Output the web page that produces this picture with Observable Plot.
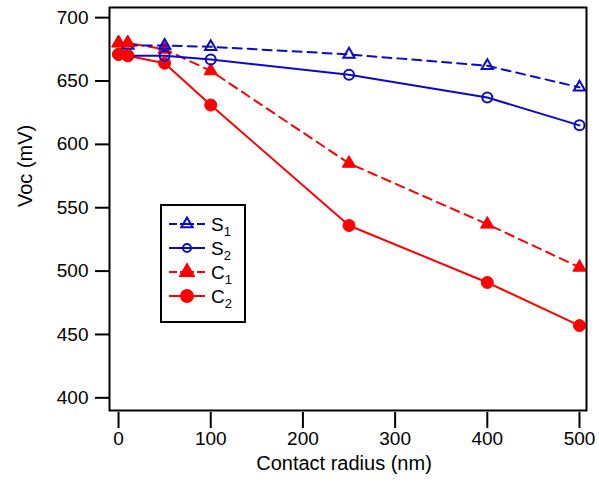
<!DOCTYPE html>
<html>
<head>
<meta charset="utf-8">
<script src="https://cdn.jsdelivr.net/npm/d3@7"></script>
<script src="https://cdn.jsdelivr.net/npm/@observablehq/plot@0.6"></script>
<style>
  html, body { margin: 0; padding: 0; background: white; }
  #wrap { position: relative; width: 599px; height: 483px; }
  #legend { position: absolute; left: 160px; top: 204px; }
</style>
</head>
<body>
<div id="wrap"><div id="legend"></div></div>
<script>
// Data
const radiusC = [0, 10, 50, 100, 250, 400, 500];
const radiusS = [10, 50, 100, 250, 400, 500];
const vocS1 = [678, 678, 677, 671, 662, 645];
const vocS2 = [670, 670, 667, 655, 637, 615];
const vocC1 = [680, 680, 675, 658, 585, 537, 503];
const vocC2 = [671, 670, 664, 631, 536, 491, 457];
const xTicks = [0, 100, 200, 300, 400, 500];
const yTicks = [400, 450, 500, 550, 600, 650, 700];
const seriesNames = ["S1", "S2", "C1", "C2"];
const xLabel = "Contact radius (nm)";
const yLabel = "Voc (mV)";

const BLUE = "#0a0ac8";
const RED = "#ff0000";
const FONT = "Liberation Sans, Arial, sans-serif";

const rows = (xs, ys) => xs.map((x, i) => ({x, y: ys[i]}));
const S1 = rows(radiusS, vocS1);
const S2 = rows(radiusS, vocS2);
const C1 = rows(radiusC, vocC1);
const C2 = rows(radiusC, vocC2);
const nearZero = d => d.x <= 10;

const chart = Plot.plot({
  width: 599,
  height: 483,
  marginLeft: 109,
  marginRight: 13,
  marginTop: 7,
  marginBottom: 73,
  x: {domain: [-9.8, 507.6]},
  y: {domain: [390, 708]},
  style: {fontFamily: FONT, fontSize: "19px", color: "black", background: "white"},
  marks: [
    Plot.axisY({ticks: yTicks, tickSize: 14, tickPadding: 7, strokeWidth: 2, fontSize: 19, label: null}),
    Plot.axisX({ticks: xTicks, tickSize: 16, tickPadding: 3, dy: 2, strokeWidth: 2, fontSize: 19, label: null}),
    Plot.text([yLabel], {frameAnchor: "left", dx: -84, dy: -2, rotate: -90, fontSize: 20, fill: "black"}),
    Plot.text([xLabel], {frameAnchor: "bottom", dy: 59, dx: -4, fontSize: 20, fill: "black"}),
    // red series
    Plot.line(C1, {x: "x", y: "y", stroke: RED, strokeWidth: 2, strokeDasharray: "9,6"}),
    Plot.line(C2, {x: "x", y: "y", stroke: RED, strokeWidth: 2}),
    Plot.dot(C1, {x: "x", y: "y", symbol: "triangle", r: 5, fill: RED, stroke: RED, strokeWidth: 1}),
    Plot.dot(C2, {x: "x", y: "y", symbol: "circle", r: 6, fill: RED, stroke: RED, strokeWidth: 1}),
    // blue series
    Plot.line(S1, {x: "x", y: "y", stroke: BLUE, strokeWidth: 2, strokeDasharray: "9,6"}),
    Plot.line(S2, {x: "x", y: "y", stroke: BLUE, strokeWidth: 2}),
    Plot.dot(S1, {x: "x", y: "y", symbol: "triangle", r: 4.2, fill: "none", stroke: BLUE, strokeWidth: 2}),
    Plot.dot(S2, {x: "x", y: "y", symbol: "circle", r: 5, fill: "none", stroke: BLUE, strokeWidth: 2}),
    // red markers near zero sit on top of the blue ones there
    Plot.dot(C1, {filter: nearZero, x: "x", y: "y", symbol: "triangle", r: 5, fill: RED, stroke: RED, strokeWidth: 1}),
    Plot.dot(C2, {filter: nearZero, x: "x", y: "y", symbol: "circle", r: 6, fill: RED, stroke: RED, strokeWidth: 1}),
    Plot.frame({stroke: "black", strokeWidth: 2})
  ]
});
document.getElementById("wrap").prepend(chart);

// Legend
const legendItems = [
  {name: seriesNames[0], color: BLUE, dash: true, symbol: d3.symbolTriangle, size: 55, fill: "none"},
  {name: seriesNames[1], color: BLUE, dash: false, symbol: d3.symbolCircle, size: 50, fill: "none"},
  {name: seriesNames[2], color: RED, dash: true, symbol: d3.symbolTriangle, size: 80, fill: RED},
  {name: seriesNames[3], color: RED, dash: false, symbol: d3.symbolCircle, size: 110, fill: RED}
];
const lw = 86, lh = 119;
const svg = d3.select("#legend").append("svg").attr("width", lw).attr("height", lh)
  .style("font-family", FONT);
svg.append("rect").attr("x", 1).attr("y", 1).attr("width", lw - 2).attr("height", lh - 2)
  .attr("fill", "white").attr("stroke", "black").attr("stroke-width", 2);
legendItems.forEach((d, i) => {
  const cy = 20 + i * 24;
  const g = svg.append("g");
  if (d.dash) {
    g.append("line").attr("x1", 9).attr("x2", 17).attr("y1", cy).attr("y2", cy).attr("stroke", d.color).attr("stroke-width", 2);
    g.append("line").attr("x1", 37).attr("x2", 45).attr("y1", cy).attr("y2", cy).attr("stroke", d.color).attr("stroke-width", 2);
    g.append("line").attr("x1", 20).attr("x2", 34).attr("y1", cy).attr("y2", cy).attr("stroke", d.color).attr("stroke-width", 2);
  } else {
    g.append("line").attr("x1", 9).attr("x2", 45).attr("y1", cy).attr("y2", cy).attr("stroke", d.color).attr("stroke-width", 2);
  }
  g.append("path").attr("d", d3.symbol(d.symbol, d.size)()).attr("transform", `translate(27,${cy})`)
    .attr("fill", d.fill).attr("stroke", d.color).attr("stroke-width", 2);
  const t = g.append("text").attr("x", 51).attr("y", cy + 7).attr("font-size", 19).attr("fill", "black");
  t.append("tspan").text(d.name[0]);
  t.append("tspan").attr("font-size", 13).attr("dy", 5).text(d.name.slice(1));
});
</script>
</body>
</html>
